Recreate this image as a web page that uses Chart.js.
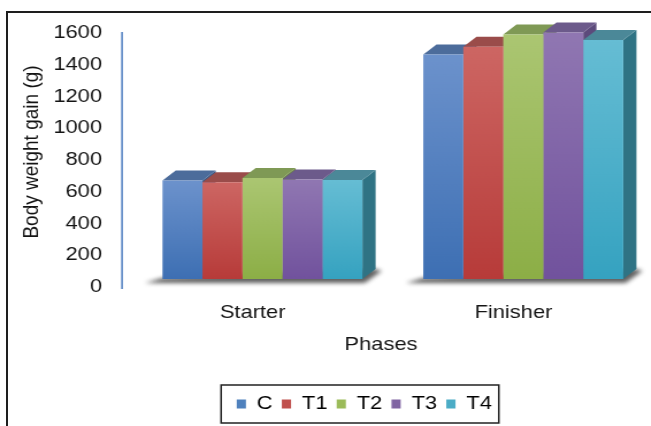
<!DOCTYPE html>
<html>
<head>
<meta charset="utf-8">
<title>Body weight gain</title>
<script src="https://cdn.jsdelivr.net/npm/chart.js@4.4.1/dist/chart.umd.min.js"></script>
<style>
  html, body { margin: 0; padding: 0; background: #fff; overflow: hidden; width: 651px; height: 426px; }
  .frame { position: absolute; left: 6px; top: 11px; width: 700px; height: 500px; border: 2px solid #1e1e1e; }
  /* chart is drawn narrow and widened, like the stretched Excel export */
  .wrap { position: absolute; left: 0; top: 0; width: 600px; height: 426px; transform: scaleX(1.15); transform-origin: 0 0; }
</style>
</head>
<body>
<div class="frame"></div>
<div class="wrap"><canvas id="chart" width="600" height="426"></canvas></div>
<script>
const phases = ["Starter", "Finisher"];
const groups = ["C", "T1", "T2", "T3", "T4"];
const gainC = [620, 1414];
const gainT1 = [610, 1463];
const gainT2 = [637, 1540];
const gainT3 = [626, 1552];
const gainT4 = [624, 1506];
const yTicks = [0, 200, 400, 600, 800, 1000, 1200, 1400, 1600];

const series = [gainC, gainT1, gainT2, gainT3, gainT4];
const baseColors = ["#4f81bd", "#c0504d", "#9bbb59", "#8064a2", "#4bacc6"];
const frontTop = ["#6c92cc", "#cd6663", "#abc672", "#9077b2", "#66bdd4"];
const frontBottom = ["#3d6fb3", "#b73b39", "#8cae46", "#71529d", "#35a2c0"];
const topColors = ["#4c6c9b", "#9a4c4a", "#7f9955", "#6c5a8b", "#4b8898"];
const sideColors = ["#3b5a87", "#823c3a", "#6a8244", "#5c4a7b", "#2f7384"];

// depth of the fake 3D boxes
const DX = 11.5, DY = 10;
const FONT = '"Liberation Sans", Arial, sans-serif';
const FONT_SIZE = 19;
const TEXT = "#141414";

Chart.defaults.font.family = FONT;
Chart.defaults.font.size = FONT_SIZE;
Chart.defaults.color = TEXT;

// y labels are mirrored (so they are not clipped to the narrow axis box)
// and pulled back left of the axis line
const measure = document.createElement("canvas").getContext("2d");
measure.font = FONT_SIZE + "px " + FONT;
const widestTick = Math.max(...yTicks.map((v) => measure.measureText(String(v)).width));

function frontFill(i) {
  return (c) => {
    const ys = c.chart.scales.y;
    if (!ys || !c.chart.chartArea) return baseColors[i];
    const top = ys.getPixelForValue(c.raw);
    const bottom = ys.getPixelForValue(0);
    const g = c.chart.ctx.createLinearGradient(0, top, 0, bottom);
    g.addColorStop(0, frontTop[i]);
    g.addColorStop(1, frontBottom[i]);
    return g;
  };
}

// floor shadow, tops and right-hand sides, drawn before the front faces
const boxes3d = {
  id: "boxes3d",
  beforeDatasetsDraw(chart) {
    const ctx = chart.ctx;
    const metas = series.map((_, i) => chart.getDatasetMeta(i));
    phases.forEach((_, j) => {
      const first = metas[0].data[j];
      const last = metas[metas.length - 1].data[j];
      const left = first.x - first.width / 2;
      const right = last.x + last.width / 2;
      const base = first.base;

      ctx.save();
      ctx.filter = "blur(2px)";
      ctx.fillStyle = "rgba(55,55,55,0.8)";
      ctx.beginPath();
      ctx.moveTo(left - 15, base + 4);
      ctx.lineTo(right + 2, base + 4);
      ctx.lineTo(right + DX + 5, base - DY + 2);
      ctx.lineTo(right + DX, base - DY);
      ctx.lineTo(left, base - 1);
      ctx.closePath();
      ctx.fill();
      ctx.restore();

      metas.forEach((meta, i) => {
        const el = meta.data[j];
        const l = el.x - el.width / 2;
        const r = el.x + el.width / 2;
        const y = el.y;
        const b = el.base;
        ctx.fillStyle = sideColors[i];
        ctx.beginPath();
        ctx.moveTo(r, y);
        ctx.lineTo(r + DX, y - DY);
        ctx.lineTo(r + DX, b - DY);
        ctx.lineTo(r, b);
        ctx.closePath();
        ctx.fill();
        ctx.fillStyle = topColors[i];
        ctx.beginPath();
        ctx.moveTo(l, y);
        ctx.lineTo(l + DX, y - DY);
        ctx.lineTo(r + DX, y - DY);
        ctx.lineTo(r, y);
        ctx.closePath();
        ctx.fill();
      });
    });
  },
  afterDraw(chart) {
    const ctx = chart.ctx;
    const xs = chart.scales.x;
    const ys = chart.scales.y;

    // value axis line
    ctx.save();
    ctx.strokeStyle = "#5a86c5";
    ctx.lineWidth = 1.6;
    ctx.beginPath();
    const ax = chart.chartArea.left - 8.7;
    ctx.moveTo(ax, ys.getPixelForValue(yTicks[yTicks.length - 1]) + 7);
    ctx.lineTo(ax, ys.getPixelForValue(0) + 10);
    ctx.stroke();

    // category axis title, pushed left like the tick labels
    ctx.fillStyle = TEXT;
    ctx.font = FONT_SIZE + "px " + FONT;
    ctx.textAlign = "center";
    ctx.textBaseline = "middle";
    ctx.fillText("Phases", (xs.left + xs.right) / 2 - 10.3, xs.top + 66);

    // frame round the legend
    const hb = chart.legend.legendHitBoxes;
    const l = Math.min(...hb.map((b) => b.left)) - 13.6;
    const r = Math.max(...hb.map((b) => b.left + b.width)) + 6;
    const cy = hb[0].top + hb[0].height / 2;
    ctx.strokeStyle = "#222";
    ctx.lineWidth = 1.5;
    ctx.strokeRect(l, cy - 19, r - l, 38);
    ctx.restore();
  }
};

new Chart(document.getElementById("chart"), {
  type: "bar",
  data: {
    labels: phases,
    datasets: series.map((data, i) => ({
      label: groups[i],
      data,
      backgroundColor: frontFill(i),
      borderWidth: 0,
      categoryPercentage: 0.7665,
      barPercentage: 1.0,
    })),
  },
  options: {
    responsive: false,
    animation: false,
    events: [],
    devicePixelRatio: 1,
    layout: { padding: { left: 65.2, right: 31.6, top: 25, bottom: 2.5 } },
    plugins: {
      tooltip: { enabled: false },
      legend: {
        position: "bottom",
        labels: {
          boxWidth: 8,
          boxHeight: 9,
          padding: 8,
          color: TEXT,
          generateLabels: () => groups.map((g, i) => ({
            text: g,
            fillStyle: baseColors[i],
            strokeStyle: baseColors[i],
            lineWidth: 0,
            hidden: false,
            datasetIndex: i,
          })),
        },
      },
    },
    scales: {
      x: {
        grid: { display: false, drawTicks: false },
        border: { display: false },
        ticks: { padding: 22.6, labelOffset: -8.5, color: TEXT },
        afterFit: (s) => { s.height = 107.5; },
      },
      y: {
        min: 0,
        max: 1600,
        afterBuildTicks: (s) => { s.ticks = yTicks.map((v) => ({ value: v })); },
        grid: { display: false, drawTicks: false },
        border: { display: false },
        ticks: {
          mirror: true,
          crossAlign: "far",
          padding: -26.1 - widestTick,
          labelOffset: 8,
          color: TEXT,
          callback: (v) => String(v),
        },
        title: {
          display: true,
          text: "Body weight gain (g)",
          color: TEXT,
          padding: { top: -48.8, bottom: 0 },
        },
        afterFit: (s) => {
          s.width = 49.6;
          s.paddingTop = 0;
          s.paddingBottom = 0;
        },
      },
    },
  },
  plugins: [boxes3d],
});
</script>
</body>
</html>
